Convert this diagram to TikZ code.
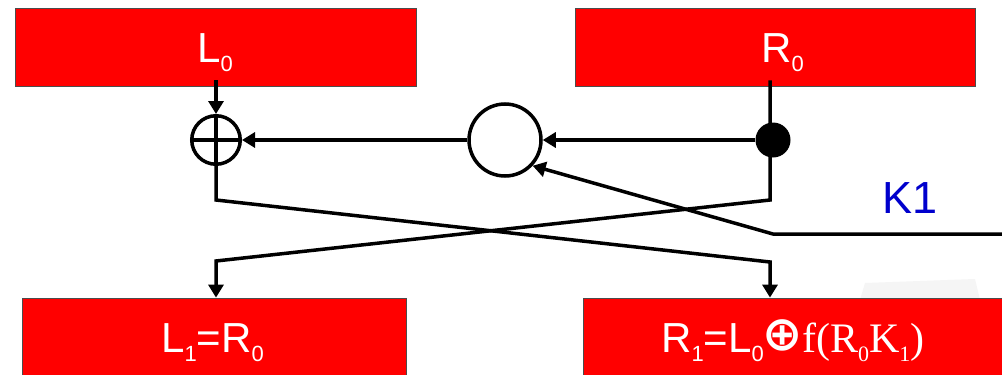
\documentclass[tikz,border=0pt]{standalone}
\usepackage{fontspec}
\setmainfont{Liberation Sans}
\newfontfamily\serifX{Liberation Serif}
\newfontfamily\symX{DejaVu Sans}
\usetikzlibrary{arrows.meta}
\definecolor{kblue}{RGB}{0,0,205}
\newcommand{\sbx}[1]{\raisebox{-9pt}{\fontsize{22}{22}\selectfont #1}}
\begin{document}
\begin{tikzpicture}[x=1pt,y=-1pt,
  redbox/.style={rectangle, draw=black!70, line width=0.8pt, fill=red, inner sep=0pt, minimum height=78pt},
  txt/.style={text=white, font=\fontsize{42}{42}\selectfont, inner sep=0pt, anchor=base west},
  wire/.style={line width=3.5pt, line join=miter},
  arr/.style={wire, -{Triangle[length=13pt,width=15pt]}},
  ring/.style={circle, draw, line width=3.5pt, inner sep=0pt, fill=white}]
\clip (0,0) rectangle (1002,375);
\fill[white] (0,0) rectangle (1002,375);
% faint shadow
\fill[black!4] (865,283) -- (975,279) -- (980,300) -- (860,300) -- cycle;
% boxes
\node[redbox, minimum width=401pt] (L0) at (215.5,47) {};
\node[redbox, minimum width=400pt] (R0) at (775,47) {};
\node[redbox, minimum width=384pt, minimum height=80pt] (L1) at (214,338) {};
\node[redbox, minimum width=424pt, minimum height=80pt] (R1) at (795,338) {};
% texts
\node[txt] (tL0) at (197,62) {L\sbx{0}};
\node[txt] (tR0) at (761,62) {R\sbx{0}};
\node[txt] (tL1) at (161,352) {L\sbx{1}=R\sbx{0}};
\node[txt] (tR1) at (661,352) {R\sbx{1}=L\sbx{0}\kern-1pt\raisebox{2pt}{\symX\bfseries\fontsize{48}{48}\selectfont ⊕}\kern-1pt{\serifX f(R\sbx{0}K\sbx{1})}};
\node[text=kblue, font=\fontsize{45}{45}\selectfont, inner sep=0pt, anchor=base west] (tK) at (882,213) {K1};
% coordinates
\coordinate (c1) at (216,200);
\coordinate (c2) at (770,262);
\coordinate (c3) at (770,200);
\coordinate (c4) at (216,261);
\coordinate (k0) at (1003,234);
\coordinate (k1) at (773,234);
% circles
\node[ring, minimum size=48.5pt] (xor) at (216,140) {};
\node[ring, minimum size=72pt] (F) at (505,140) {};
% wires
\draw[arr] ([yshift=6pt]L0.south -| xor) -- (xor.north);
\draw[wire] (xor.north) -- (xor.south) (xor.west) -- (xor.east);
\draw[arr] (xor.south) -- (c1) -- (c2) -- (c2 |- R1.north);
\draw[arr] ([yshift=6pt]R0.south -| c3) -- (c3) -- (c4) -- (c4 |- L1.north);
\node[circle, fill=black, minimum size=35pt, inner sep=0pt] (dot) at (773,140) {};
\draw[arr] (dot) -- (F);
\draw[arr] (F) -- (xor);
\draw[arr] (k0) -- (k1) -- (F.-43);
\end{tikzpicture}
\end{document}
